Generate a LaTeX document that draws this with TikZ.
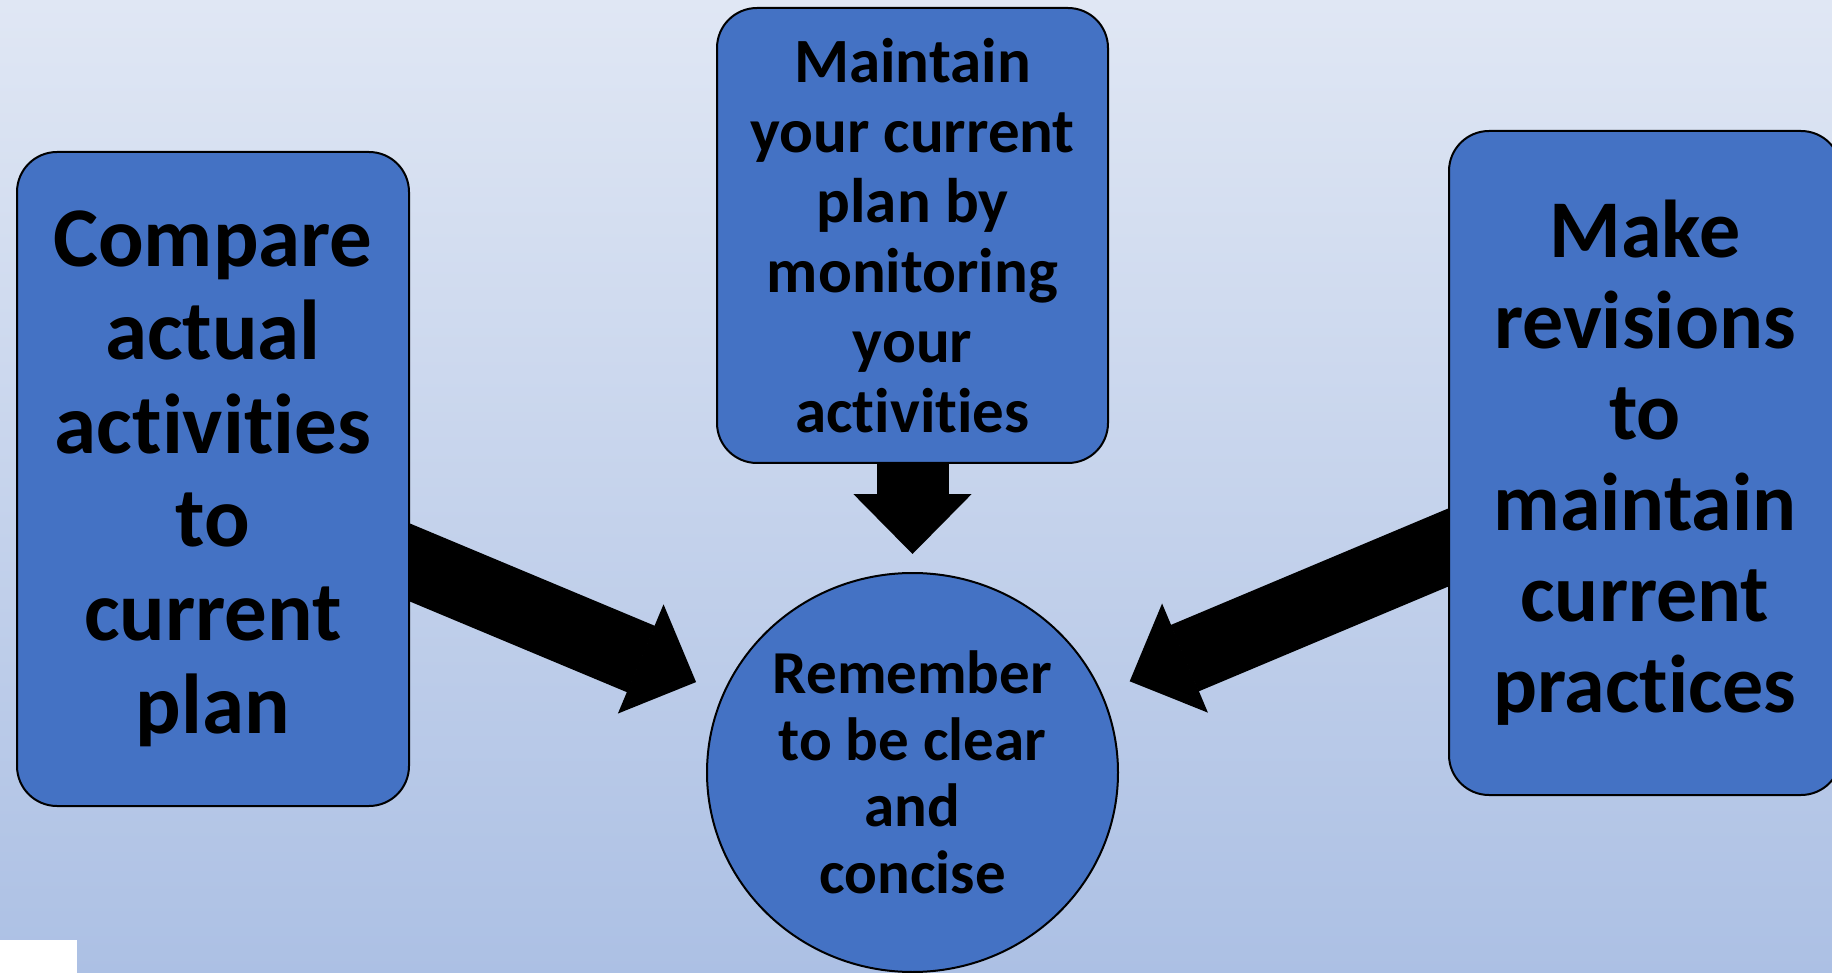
\documentclass[tikz,border=0pt]{standalone}
\usepackage{fontspec}
\setmainfont{Carlito}[Ligatures=NoCommon]
\usetikzlibrary{calc,arrows.meta,shapes.geometric}

\definecolor{boxblue}{RGB}{68,114,196}
\definecolor{bgtop}{RGB}{224,231,244}
\definecolor{bgbottom}{RGB}{172,192,228}

\pgfdeclarelayer{bg}
\pgfsetlayers{bg,main}

\tikzset{
	stepbox/.style={draw=black, line width=2pt, fill=boxblue, rounded corners=40pt,
		align=center, inner sep=0pt, font=\bfseries},
	goalcircle/.style={ellipse, draw=black, line width=2pt, fill=boxblue,
		align=center, inner sep=0pt, font=\bfseries},
	bigarrow/.style={line width=72pt, draw=black,
		-{Triangle[length=60pt, width=118pt, line width=2pt]}}
}

\begin{document}
\begin{tikzpicture}[x=1pt, y=-1pt]
			%%%%% START %%%%%
			
			\useasboundingbox (0, 0) rectangle (1832, 973);
			\clip (0, 0) rectangle (1832, 973);
			
			\node[stepbox, minimum width=392pt, minimum height=654pt,
				font=\bfseries\fontsize{85}{93.5}\selectfont] (cmp) at (213, 479)
				{Compare\\actual\\activities\\to\\current\\plan};
			
			\node[stepbox, minimum width=391pt, minimum height=455pt,
				font=\bfseries\fontsize{63}{70}\selectfont] (ms) at (912.5, 235.5)
				{Maintain\\your current\\plan by\\monitoring\\your\\activities};
			
			\node[stepbox, minimum width=392pt, minimum height=664pt,
				font=\bfseries\fontsize{82}{91}\selectfont] (rev) at (1645, 463)
				{Make\\revisions\\to\\maintain\\current\\practices};
			
			\node[goalcircle, minimum width=411pt, minimum height=399pt,
				font=\bfseries\fontsize{61}{66.6}\selectfont] (rem) at (912.5, 772.5)
				{Remember\\to be clear\\and\\concise};
			
			\begin{pgfonlayer}{bg}
				\shade[top color=bgtop, bottom color=bgbottom] (0, 0) rectangle (1832, 973);
				\fill[white] (0, 940) rectangle (77, 973);
				
				% arrows run under the boxes
				\draw[bigarrow, shorten >=29pt] ($(cmp.east)+(-30, 71)$) -- (rem);
				\draw[bigarrow, shorten >=18pt] (ms) -- (rem);
				\draw[bigarrow, shorten >=30pt] ($(rev.west)+(30, 72)$) -- (rem);
			\end{pgfonlayer}
			
			%%%%% END %%%%%
\end{tikzpicture}
\end{document}
